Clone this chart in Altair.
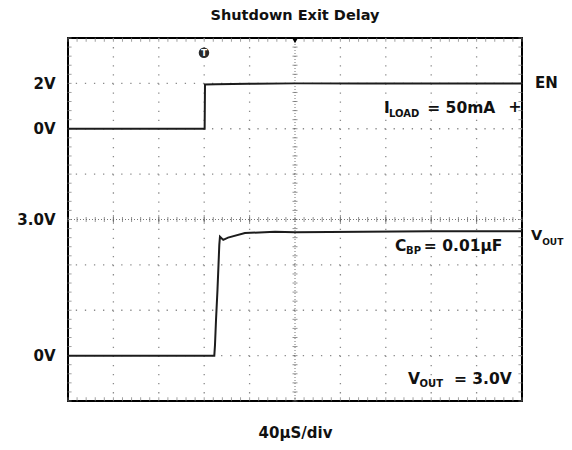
import altair as alt
import pandas as pd

# ---------------- data ----------------
title_text = "Shutdown Exit Delay"
x_title = "40µS/div"

# EN trace: time (µs, 40 µs/div, 0 = centre) and volts (2 V/div, 0 V at div 6)
en_time_us = [-200, -140, -100, -79.6, -79.3, -70, -40, 0, 60, 120, 200]
en_volts = [0.0, 0.0, 0.0, 0.0, 1.95, 1.96, 1.98, 2.0, 2.0, 2.0, 2.0]

# VOUT trace: time (µs) and volts (1 V/div, 0 V at div 1)
vout_time_us = [-200, -140, -100, -71.1, -70.5, -69.6, -68.3, -67.4, -66.7,
                -66.1, -63.2, -59.0, -44.1, -17.6, 0, 60, 120, 200]
vout_volts = [0.0, 0.0, 0.0, 0.0, 0.23, 0.78, 1.45, 2.0, 2.44,
              2.62, 2.55, 2.60, 2.70, 2.73, 2.72, 2.73, 2.74, 2.74]

# left-hand channel labels (division position -> text)
y_label_div = [7, 6, 4, 1]
y_label_text = ["2V", "0V", "3.0V", "0V"]

# graticule
grid_x_us = [-160, -120, -80, -40, 40, 80, 120, 160]
grid_y_div = [1, 2, 3, 5, 6, 7]
minor_x_us = [-200 + 8 * i for i in range(51)]
minor_y_div = [round(0.2 * i, 2) for i in range(41)]

# ---------------- styling / scales ----------------
FONT = "DejaVu Sans"
INK = "#111111"
XDOM = [-200, 200]
YDOM = [0, 8]

label_expr = " : ".join(
    f"datum.value == {d} ? '{t}'" for d, t in zip(y_label_div, y_label_text)
) + " : ''"

x_axis = alt.Axis(title=x_title, labels=False, ticks=False, domain=False, grid=False,
                  titleFont=FONT, titleFontSize=15, titleFontWeight="bold",
                  titleColor=INK, titlePadding=24)
y_axis = alt.Axis(title=None, values=y_label_div, labelExpr=label_expr, ticks=False,
                  domain=False, grid=False, labelFont=FONT, labelFontSize=15,
                  labelFontWeight="bold", labelColor=INK, labelPadding=13,
                  labelBaseline="middle")


def X(field="t"):
    return alt.X(f"{field}:Q", scale=alt.Scale(domain=XDOM, nice=False, zero=False), axis=x_axis)


def Y(field="y"):
    return alt.Y(f"{field}:Q", scale=alt.Scale(domain=YDOM, nice=False, zero=False), axis=y_axis)


# ---------------- graticule layers ----------------
vgrid = alt.Chart(pd.DataFrame({"t": grid_x_us})).mark_rule(
    color="#8a8a8a", strokeWidth=1.3, strokeDash=[1.3, 7.78]).encode(x=X())
hgrid = alt.Chart(pd.DataFrame({"y": grid_y_div})).mark_rule(
    color="#8a8a8a", strokeWidth=1.3, strokeDash=[1.3, 7.78]).encode(y=Y())

centre_v = alt.Chart(pd.DataFrame({"t": [0]})).mark_rule(
    color="#777777", strokeWidth=1, strokeDash=[1, 2]).encode(x=X())
centre_h = alt.Chart(pd.DataFrame({"y": [4]})).mark_rule(
    color="#777777", strokeWidth=1, strokeDash=[1, 2]).encode(y=Y())

ticks_h = alt.Chart(pd.DataFrame({"t": minor_x_us, "y": [4] * len(minor_x_us)})).mark_tick(
    orient="vertical", size=5, thickness=1, color="#666666").encode(x=X(), y=Y())
ticks_v = alt.Chart(pd.DataFrame({"t": [0] * len(minor_y_div), "y": minor_y_div})).mark_tick(
    orient="horizontal", size=5, thickness=1, color="#666666").encode(x=X(), y=Y())
major_h = alt.Chart(pd.DataFrame({"t": grid_x_us, "y": [4] * len(grid_x_us)})).mark_tick(
    orient="vertical", size=9, thickness=1, color="#666666").encode(x=X(), y=Y())

edge_b = alt.Chart(pd.DataFrame({"t": minor_x_us, "y": [0.04] * len(minor_x_us)})).mark_tick(
    orient="vertical", size=4, thickness=1, color="#777777").encode(x=X(), y=Y())
edge_t = alt.Chart(pd.DataFrame({"t": minor_x_us, "y": [7.96] * len(minor_x_us)})).mark_tick(
    orient="vertical", size=4, thickness=1, color="#777777").encode(x=X(), y=Y())
edge_l = alt.Chart(pd.DataFrame({"t": [-198.6] * len(minor_y_div), "y": minor_y_div})).mark_tick(
    orient="horizontal", size=4, thickness=1, color="#777777").encode(x=X(), y=Y())
edge_r = alt.Chart(pd.DataFrame({"t": [198.6] * len(minor_y_div), "y": minor_y_div})).mark_tick(
    orient="horizontal", size=4, thickness=1, color="#777777").encode(x=X(), y=Y())

# ---------------- traces ----------------
en_line = alt.Chart(pd.DataFrame({"t": en_time_us, "v": en_volts})).transform_calculate(
    y="6 + datum.v / 2").mark_line(color="#1c1c1c", strokeWidth=2).encode(x=X(), y=Y())
vout_line = alt.Chart(pd.DataFrame({"t": vout_time_us, "v": vout_volts})).transform_calculate(
    y="1 + datum.v").mark_line(color="#1c1c1c", strokeWidth=2).encode(x=X(), y=Y())

# ---------------- markers ----------------
top_marker = alt.Chart(pd.DataFrame({"t": [0], "y": [7.95]})).mark_point(
    shape="triangle-down", filled=True, size=45, color="black", opacity=1).encode(x=X(), y=Y())
trig_dot = alt.Chart(pd.DataFrame({"t": [-80.2], "y": [7.676]})).mark_point(
    shape="circle", filled=True, size=110, color="#2a2a2a", opacity=1).encode(x=X(), y=Y())
trig_txt = alt.Chart(pd.DataFrame({"t": [-80.2], "y": [7.676], "s": ["T"]})).mark_text(
    font=FONT, fontSize=9, fontWeight="bold", color="white", baseline="middle",
    align="center").encode(x=X(), y=Y(), text="s:N")


def label(text, t, y, size=15.5, align="left", baseline="alphabetic"):
    df = pd.DataFrame({"t": [t], "y": [y], "s": [text]})
    return alt.Chart(df).mark_text(font=FONT, fontSize=size, fontWeight="bold", color=INK,
                                   align=align, baseline=baseline).encode(
        x=X(), y=Y(), text="s:N")


labels = [
    # right-hand channel names
    label("EN", 211.5, 6.89, size=15),
    label("V", 208.0, 3.548, size=14.5),
    label("OUT", 217.8, 3.44, size=9),
    # I_LOAD = 50mA
    label("I", 78.4, 6.347),
    label("LOAD", 82.8, 6.26, size=10),
    label("= 50mA", 116.5, 6.347),
    label("+", 193.8, 6.48, size=16, align="center", baseline="middle"),
    # C_BP = 0.01µF
    label("C", 88.1, 3.306),
    label("BP", 97.8, 3.24, size=10),
    label("= 0.01µF", 113.5, 3.306),
    # V_OUT = 3.0V
    label("V", 99.6, 0.375),
    label("OUT", 109.7, 0.31, size=10),
    label("= 3.0V", 140.0, 0.375),
]

chart = alt.layer(
    vgrid, hgrid, centre_v, centre_h, ticks_h, ticks_v, major_h,
    edge_b, edge_t, edge_l, edge_r,
    en_line, vout_line, top_marker, trig_dot, trig_txt, *labels,
).properties(
    width=454,
    height=363,
    background="white",
    title=alt.TitleParams(title_text, font=FONT, fontSize=14.5, fontWeight="bold",
                          color=INK, anchor="middle", offset=14),
    autosize=alt.AutoSizeParams(type="none"),
    padding={"left": 60, "top": 30, "right": 42, "bottom": 41},
).configure_view(
    stroke="black", strokeWidth=2
)

chart.save("out.html", embed_options={"renderer": "svg", "actions": False})
